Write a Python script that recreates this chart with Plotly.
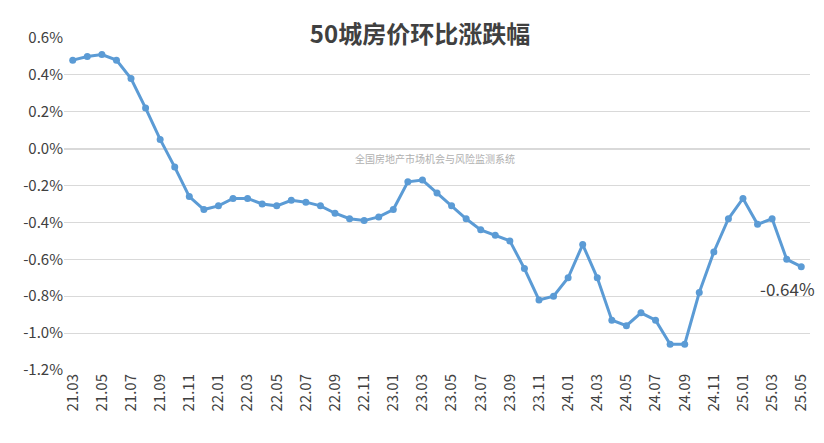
import plotly.graph_objects as go

months = ["21.03","21.04","21.05","21.06","21.07","21.08","21.09","21.10","21.11","21.12",
"22.01","22.02","22.03","22.04","22.05","22.06","22.07","22.08","22.09","22.10","22.11","22.12",
"23.01","23.02","23.03","23.04","23.05","23.06","23.07","23.08","23.09","23.10","23.11","23.12",
"24.01","24.02","24.03","24.04","24.05","24.06","24.07","24.08","24.09","24.10","24.11","24.12",
"25.01","25.02","25.03","25.04","25.05"]
values = [0.48,0.50,0.51,0.48,0.38,0.22,0.05,-0.10,-0.26,-0.33,
-0.31,-0.27,-0.27,-0.30,-0.31,-0.28,-0.29,-0.31,-0.35,-0.38,-0.39,-0.37,
-0.33,-0.18,-0.17,-0.24,-0.31,-0.38,-0.44,-0.47,-0.50,-0.65,-0.82,-0.80,
-0.70,-0.52,-0.70,-0.93,-0.96,-0.89,-0.93,-1.06,-1.06,-0.78,-0.56,-0.38,
-0.27,-0.41,-0.38,-0.60,-0.64]
yticks = [0.6,0.4,0.2,0.0,-0.2,-0.4,-0.6,-0.8,-1.0,-1.2]

fig = go.Figure(go.Scatter(x=months, y=values, mode="lines+markers",
    line=dict(color="#5b9bd5", width=3), marker=dict(size=7, color="#5b9bd5")))
fig.add_annotation(x=len(months)-1, y=values[-1], text="-0.64%", showarrow=False,
    yshift=-22, xshift=-14, font=dict(size=17, color="#404040"))
fig.add_annotation(x=0.5, y=0, xref="paper", yref="y", yshift=-10, xshift=-2,
    text="全国房地产市场机会与风险监测系统",
    showarrow=False, font=dict(size=10, color="#b0b0b0"))
fig.update_layout(width=824, height=443, paper_bgcolor="white", plot_bgcolor="white",
    margin=dict(l=56, r=22, t=30, b=81), showlegend=False,
    title=dict(text="<b>50城房价环比涨跌幅</b>", x=0.5, y=0.96, font=dict(size=24, color="#404040")),
    font=dict(family="Noto Sans CJK SC", color="#404040"))
fig.update_xaxes(type="category", tickvals=months[::2], tickangle=-90, tickfont=dict(size=15),
    showgrid=False, range=[-0.6, len(months)-0.4], showline=False)
fig.update_yaxes(tickvals=yticks, ticktext=[f"{v:.1f}%" for v in yticks], range=[-1.2, 0.6],
    gridcolor="#d9d9d9", zeroline=True, zerolinecolor="#d9d9d9", tickfont=dict(size=15))
fig.write_html("out.html")
